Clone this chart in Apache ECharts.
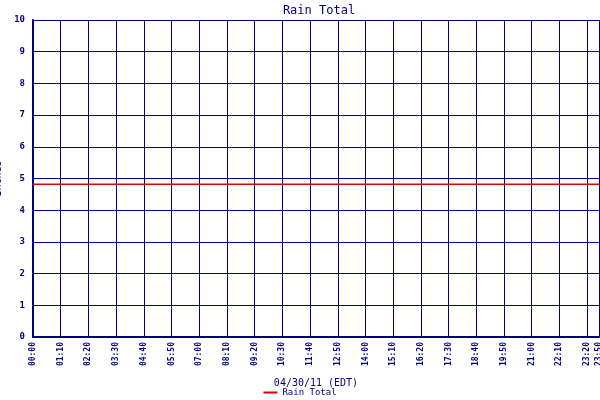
<!DOCTYPE html>
<html><head><meta charset="utf-8">
<script src="https://cdn.jsdelivr.net/npm/echarts@6/dist/echarts.min.js"></script>
<style>html,body{margin:0;padding:0;background:#fff}#c{width:600px;height:400px}</style>
</head><body><div id="c"></div>
<script>
var times = [0,70,140,210,280,350,420,490,560,630,700,770,840,910,980,1050,1120,1190,1260,1330,1400,1430];
var rainTotal = [4.82,4.82,4.82,4.82,4.82,4.82,4.82,4.82,4.82,4.82,4.82,4.82,4.82,4.82,4.82,4.82,4.82,4.82,4.82,4.82,4.82,4.82];
var navy = '#000080';
var font = 'DejaVu Sans Mono';
function fmt(v){var h=Math.floor(v/60),m=v%60;return (h<10?'0':'')+h+':'+(m<10?'0':'')+m;}
var chart = echarts.init(document.getElementById('c'));
chart.setOption({
  animation:false,
  title:{text:'Rain Total',left:314,top:0,textAlign:'center',textStyle:{color:navy,fontFamily:font,fontSize:12,fontWeight:'normal'}},
  legend:{bottom:-2,left:'center',itemWidth:14,itemHeight:2,icon:'rect',textStyle:{color:navy,fontFamily:font,fontSize:9},data:['Rain Total']},
  grid:{left:33,right:1,top:20,bottom:63,containLabel:false,outerBoundsMode:'none'},
  xAxis:{type:'value',min:0,max:1430,interval:70,
    name:'04/30/11 (EDT)',nameLocation:'middle',nameGap:41,nameTextStyle:{color:navy,fontFamily:font,fontSize:10},
    axisLine:{lineStyle:{color:navy,width:2}},axisTick:{show:false},
    axisLabel:{rotate:90,hideOverlap:false,color:navy,fontFamily:font,fontSize:8,fontWeight:'bold',formatter:fmt,showMaxLabel:true,showMinLabel:true,margin:5},
    splitLine:{show:true,lineStyle:{color:navy,width:1}}},
  yAxis:{type:'value',min:0,max:10,interval:1,
    name:'Inches',nameLocation:'middle',nameGap:22,nameTextStyle:{color:navy,fontFamily:font,fontSize:10},
    axisLine:{show:true,lineStyle:{color:navy,width:2}},axisTick:{show:false},
    axisLabel:{color:navy,fontFamily:font,fontSize:9,fontWeight:'bold',margin:8},
    splitLine:{show:true,lineStyle:{color:navy,width:1}}},
  series:[{name:'Rain Total',type:'line',showSymbol:false,data:times.map(function(t,i){return [t,rainTotal[i]];}),lineStyle:{color:'#e00000',width:1.5},itemStyle:{color:'#e00000'}}]
});
</script></body></html>
